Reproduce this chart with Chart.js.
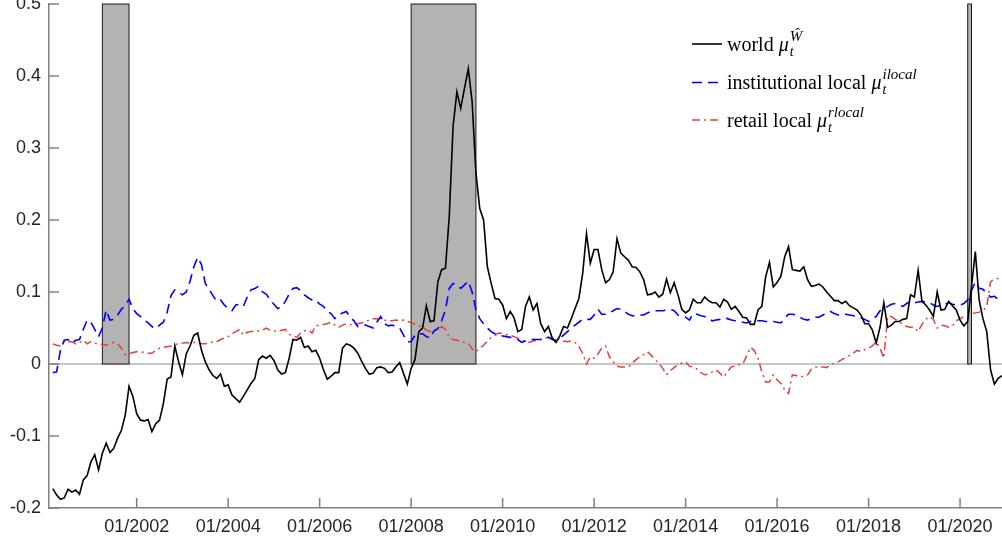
<!DOCTYPE html>
<html>
<head>
<meta charset="utf-8">
<script src="https://cdn.jsdelivr.net/npm/chart.js@4/dist/chart.umd.min.js"></script>
<style>
html,body{margin:0;padding:0;background:#fff;}
canvas{display:block;}
</style>
</head>
<body>
<canvas id="c" width="1002" height="541"></canvas>
<script>
// ---------- data ----------
const startMonth = '2000-03';   // first monthly observation
const xMin = '2000-02';
const xMax = '2020-12';

const world = [
  -0.173,-0.182,-0.188,-0.186,-0.174,-0.178,-0.175,-0.181,-0.161,-0.155,
  -0.136,-0.126,-0.147,-0.124,-0.110,-0.123,-0.117,-0.103,-0.092,-0.071,-0.031,-0.045,
  -0.069,-0.078,-0.079,-0.077,-0.094,-0.083,-0.078,-0.055,-0.021,-0.018,0.025,0.003,
  -0.015,0.014,0.025,0.040,0.043,0.019,0.003,-0.008,-0.016,-0.020,-0.014,-0.031,
  -0.029,-0.043,-0.048,-0.053,-0.045,-0.036,-0.027,-0.020,0.006,0.011,0.008,0.012,
  0.005,-0.008,-0.014,-0.012,0.008,0.034,0.033,0.037,0.023,0.025,0.017,0.019,
  0.008,-0.008,-0.021,-0.017,-0.012,-0.012,0.022,0.028,0.026,0.022,0.015,0.004,
  -0.006,-0.014,-0.013,-0.005,-0.004,-0.006,-0.012,-0.011,-0.004,0.002,-0.013,-0.028,
  -0.006,0.006,0.045,0.050,0.081,0.059,0.060,0.114,0.131,0.133,0.205,0.330,
  0.378,0.355,0.383,0.410,0.364,0.265,0.216,0.200,0.135,0.112,0.091,0.090,
  0.082,0.063,0.073,0.064,0.045,0.048,0.080,0.093,0.075,0.084,0.056,0.045,
  0.052,0.036,0.030,0.039,0.052,0.050,0.063,0.077,0.091,0.126,0.181,0.140,
  0.159,0.159,0.131,0.113,0.117,0.128,0.174,0.154,0.149,0.144,0.135,0.134,
  0.128,0.117,0.096,0.097,0.100,0.093,0.097,0.118,0.099,0.113,0.096,0.076,
  0.071,0.075,0.090,0.085,0.085,0.093,0.088,0.085,0.085,0.079,0.090,0.086,
  0.076,0.080,0.073,0.065,0.064,0.055,0.055,0.075,0.080,0.121,0.141,0.107,
  0.113,0.122,0.149,0.163,0.131,0.130,0.129,0.135,0.117,0.108,0.109,0.111,
  0.107,0.100,0.094,0.088,0.088,0.084,0.087,0.081,0.078,0.075,0.068,0.056,
  0.056,0.047,0.029,0.051,0.085,0.051,0.054,0.059,0.059,0.062,0.063,0.096,
  0.093,0.130,0.087,0.082,0.075,0.066,0.100,0.075,0.076,0.087,0.081,0.075,
  0.061,0.053,0.059,0.107,0.156,0.089,0.063,0.045,-0.008,-0.028,-0.020,-0.016
];

const institutional = [
  -0.012,-0.011,0.019,0.033,0.034,0.029,0.033,0.034,0.048,0.061,
  0.058,0.048,0.038,0.050,0.075,0.061,0.062,0.068,0.076,0.081,0.090,0.077,
  0.070,0.066,0.061,0.057,0.052,0.049,0.054,0.058,0.072,0.095,0.103,0.099,
  0.096,0.100,0.115,0.135,0.148,0.138,0.112,0.104,0.095,0.087,0.089,0.082,
  0.077,0.074,0.082,0.083,0.080,0.093,0.103,0.105,0.108,0.100,0.097,0.089,
  0.083,0.077,0.079,0.087,0.097,0.105,0.106,0.102,0.096,0.092,0.089,0.089,
  0.083,0.080,0.073,0.070,0.063,0.068,0.071,0.073,0.065,0.060,0.052,0.053,
  0.054,0.052,0.050,0.058,0.066,0.056,0.053,0.054,0.052,0.050,0.040,0.031,
  0.031,0.040,0.042,0.042,0.038,0.036,0.046,0.049,0.060,0.075,0.105,0.112,
  0.110,0.105,0.110,0.115,0.100,0.075,0.063,0.056,0.050,0.045,0.042,0.040,
  0.039,0.038,0.037,0.036,0.034,0.030,0.032,0.034,0.034,0.034,0.034,0.036,
  0.037,0.034,0.033,0.036,0.040,0.045,0.050,0.054,0.058,0.062,0.062,0.062,
  0.068,0.076,0.069,0.069,0.071,0.074,0.077,0.076,0.073,0.069,0.067,0.067,
  0.068,0.068,0.071,0.073,0.074,0.074,0.074,0.075,0.076,0.074,0.068,0.067,
  0.065,0.061,0.070,0.069,0.067,0.066,0.063,0.060,0.061,0.062,0.064,0.063,
  0.061,0.060,0.059,0.058,0.057,0.059,0.060,0.060,0.060,0.059,0.059,0.059,
  0.058,0.057,0.064,0.069,0.069,0.068,0.065,0.062,0.061,0.063,0.065,0.065,
  0.068,0.071,0.073,0.070,0.068,0.069,0.069,0.068,0.067,0.065,0.064,0.062,
  0.059,0.062,0.066,0.074,0.077,0.080,0.083,0.084,0.082,0.080,0.084,0.087,
  0.085,0.086,0.087,0.086,0.085,0.082,0.080,0.082,0.083,0.085,0.083,0.082,
  0.082,0.084,0.089,0.102,0.114,0.105,0.104,0.098,0.093,0.094,0.090,0.088
];

const retail = [
  0.028,0.026,0.025,0.031,0.031,0.031,0.028,0.030,0.033,0.028,
  0.031,0.029,0.028,0.027,0.026,0.029,0.030,0.028,0.022,0.013,0.014,0.016,
  0.017,0.017,0.016,0.015,0.015,0.019,0.022,0.023,0.024,0.025,0.027,0.028,
  0.029,0.030,0.029,0.030,0.030,0.028,0.028,0.029,0.031,0.031,0.034,0.036,
  0.038,0.042,0.045,0.048,0.040,0.044,0.045,0.046,0.046,0.047,0.050,0.047,
  0.046,0.045,0.047,0.048,0.041,0.039,0.037,0.043,0.046,0.047,0.043,0.053,
  0.054,0.055,0.056,0.058,0.054,0.051,0.054,0.056,0.055,0.054,0.056,0.057,
  0.059,0.061,0.063,0.063,0.063,0.061,0.060,0.060,0.061,0.060,0.061,0.059,
  0.058,0.055,0.053,0.052,0.047,0.045,0.046,0.048,0.052,0.048,0.037,0.034,
  0.033,0.031,0.030,0.029,0.021,0.017,0.022,0.026,0.032,0.037,0.040,0.043,
  0.042,0.041,0.040,0.038,0.036,0.033,0.031,0.030,0.032,0.033,0.034,0.036,
  0.037,0.036,0.035,0.034,0.032,0.031,0.032,0.030,0.024,0.015,0.000,0.010,
  0.008,0.014,0.022,0.025,0.010,0.003,-0.003,-0.004,-0.004,-0.004,0.001,0.006,
  0.010,0.013,0.017,0.012,0.006,0.001,-0.006,-0.015,-0.009,-0.005,-0.001,0.001,
  0.003,-0.003,-0.004,-0.007,-0.012,-0.015,-0.014,-0.011,-0.008,-0.013,-0.018,-0.011,
  -0.004,-0.003,-0.001,0.000,0.011,0.023,0.019,0.008,-0.011,-0.025,-0.025,-0.015,
  -0.022,-0.027,-0.036,-0.041,-0.015,-0.016,-0.018,-0.017,-0.015,-0.007,-0.004,-0.004,
  -0.004,-0.005,-0.001,0.001,0.003,0.006,0.009,0.012,0.015,0.019,0.017,0.020,
  0.022,0.025,0.031,0.022,0.008,0.066,0.066,0.062,0.059,0.055,0.052,0.051,
  0.051,0.045,0.055,0.062,0.066,0.062,0.050,0.054,0.053,0.051,0.053,0.060,
  0.063,0.066,0.068,0.070,0.071,0.072,0.074,0.080,0.114,0.118,0.119,0.119
];

const xTickValues = ['2002-01','2004-01','2006-01','2008-01','2010-01','2012-01','2014-01','2016-01','2018-01','2020-01'];
const xTickLabels = ['01/2002','01/2004','01/2006','01/2008','01/2010','01/2012','01/2014','01/2016','01/2018','01/2020'];
const yTickValues = [-0.2,-0.1,0,0.1,0.2,0.3,0.4,0.5];
const yTickLabels = ['-0.2','-0.1','0','0.1','0.2','0.3','0.4','0.5'];

const recessionStart = ['2001-04','2008-01','2020-03'];
const recessionEnd   = ['2001-11','2009-06','2020-04'];

const legendNames = ['world','institutional local','retail local'];
const legendSups  = ['Ŵ','ilocal','rlocal'];

// ---------- helpers ----------
function mIdx(s){ const p = s.split('-').map(Number); return (p[0]-2000)*12 + (p[1]-1); }
const m0 = mIdx(startMonth);
const toPts = arr => arr.map((v,i)=>({x:m0+i, y:v}));

const AXIS_COLOR = '#808080';
const TEXT_COLOR = '#262626';
const SANS = '"Liberation Sans", Arial, Helvetica, sans-serif';
const SERIF = '"Liberation Serif", "Times New Roman", serif';

const decor = {
  id:'decor',
  beforeDatasetsDraw(chart){
    const {ctx, chartArea:a, scales:{x,y}} = chart;
    ctx.save();
    const y0 = y.getPixelForValue(0);
    ctx.strokeStyle = '#c6c6c6'; ctx.lineWidth = 2;
    ctx.beginPath(); ctx.moveTo(a.left, y0); ctx.lineTo(a.right, y0); ctx.stroke();
    const yt = y.getPixelForValue(0.5);
    for (let i=0;i<recessionStart.length;i++){
      const x1 = x.getPixelForValue(mIdx(recessionStart[i]));
      const x2 = x.getPixelForValue(mIdx(recessionEnd[i]));
      ctx.fillStyle = '#b3b3b3';
      ctx.fillRect(x1, yt, x2-x1, y0-yt);
      ctx.strokeStyle = '#1a1a1a'; ctx.lineWidth = 1;
      ctx.strokeRect(x1, yt, x2-x1, y0-yt);
    }
    ctx.restore();
  },
  afterDraw(chart){
    const {ctx, chartArea:a, scales:{x,y}} = chart;
    ctx.save();
    // inward tick marks
    ctx.strokeStyle = AXIS_COLOR; ctx.lineWidth = 1.5;
    ctx.beginPath();
    yTickValues.forEach(v=>{ const py = y.getPixelForValue(v); ctx.moveTo(a.left, py); ctx.lineTo(a.left+10, py); });
    xTickValues.forEach(s=>{ const px = x.getPixelForValue(mIdx(s)); ctx.moveTo(px, a.bottom); ctx.lineTo(px, a.bottom-10); });
    ctx.stroke();
    // legend
    const lx0 = a.left + 643, lx1 = a.left + 673, tx = a.left + 678;
    const rows = [a.top + 40, a.top + 78.5, a.top + 116];
    chart.data.datasets.forEach((ds,i)=>{
      const ry = rows[i];
      ctx.setLineDash(ds.borderDash || []);
      ctx.strokeStyle = ds.borderColor; ctx.lineWidth = ds.borderWidth;
      ctx.beginPath(); ctx.moveTo(lx0, ry); ctx.lineTo(lx1, ry); ctx.stroke();
      ctx.setLineDash([]);
      const base = ry + 6.5;
      ctx.fillStyle = '#000'; ctx.textBaseline = 'alphabetic'; ctx.textAlign = 'left';
      ctx.font = '20px ' + SERIF;
      const t1 = legendNames[i] + ' ';
      ctx.fillText(t1, tx, base);
      let cx = tx + ctx.measureText(t1).width;
      ctx.font = 'italic 20px ' + SERIF;
      ctx.fillText('μ', cx, base);
      cx += ctx.measureText('μ').width + 1;
      ctx.font = 'italic 14px ' + SERIF;
      ctx.fillText('t', cx, base + 5);
      ctx.font = 'italic 15px ' + SERIF;
      ctx.fillText(legendSups[i], cx, base - 10);
    });
    ctx.restore();
  }
};

new Chart(document.getElementById('c').getContext('2d'), {
  type: 'line',
  data: {
    datasets: [
      {label: legendNames[0], data: toPts(world), borderColor: '#000000', borderWidth: 1.6, pointRadius: 0, tension: 0, fill: false},
      {label: legendNames[1], data: toPts(institutional), borderColor: '#0000ff', borderWidth: 1.6, borderDash: [10,6], pointRadius: 0, tension: 0, fill: false},
      {label: legendNames[2], data: toPts(retail), borderColor: '#e3413a', borderWidth: 1.5, borderDash: [8,4,2,4], pointRadius: 0, tension: 0, fill: false}
    ]
  },
  options: {
    responsive: false,
    animation: false,
    devicePixelRatio: 1,
    layout: {padding: {top: 4, right: 0, left: 0, bottom: 0}},
    plugins: {legend: {display: false}, tooltip: {enabled: false}},
    scales: {
      x: {
        type: 'linear',
        min: mIdx(xMin), max: mIdx(xMax),
        afterBuildTicks: s => { s.ticks = xTickValues.map(v => ({value: mIdx(v)})); },
        afterFit: s => { s.height = 33; s.paddingLeft = 0; s.paddingRight = 0; },
        ticks: {callback: (v,i) => xTickLabels[i], font: {family: SANS, size: 18}, color: TEXT_COLOR, padding: 8, maxRotation: 0, autoSkip: false},
        grid: {display: false, drawTicks: false},
        border: {display: true, color: AXIS_COLOR, width: 1.5}
      },
      y: {
        min: -0.2, max: 0.5,
        afterBuildTicks: s => { s.ticks = yTickValues.map(v => ({value: v})); },
        afterFit: s => { s.width = 49; s.paddingTop = 0; s.paddingBottom = 0; },
        ticks: {callback: (v,i) => yTickLabels[i], font: {family: SANS, size: 18}, color: TEXT_COLOR, padding: 8, autoSkip: false},
        grid: {display: false, drawTicks: false},
        border: {display: true, color: AXIS_COLOR, width: 1.5}
      }
    }
  },
  plugins: [decor]
});
</script>
</body>
</html>
